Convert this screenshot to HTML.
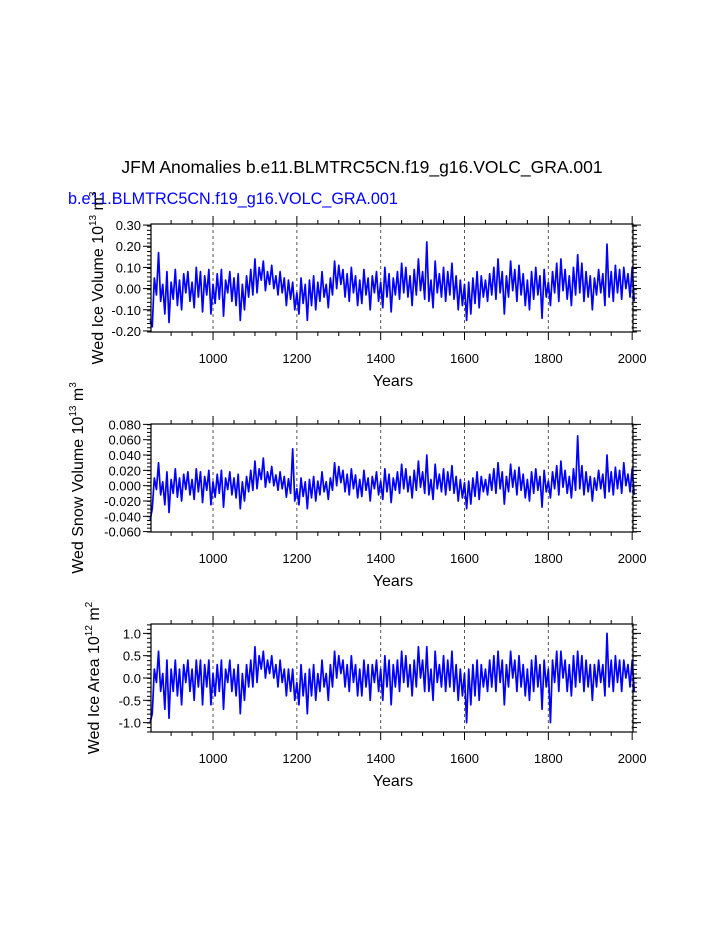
<!DOCTYPE html>
<html><head><meta charset="utf-8"><style>
html,body{margin:0;padding:0;background:#fff;}
svg{display:block;font-family:"Liberation Sans",sans-serif;}
</style></head><body>
<svg id="chart" width="723" height="935" viewBox="0 0 723 935">
<text x="362" y="173" text-anchor="middle" font-size="17.5">JFM Anomalies b.e11.BLMTRC5CN.f19_g16.VOLC_GRA.001</text>
<text x="68" y="204" font-size="16.2" fill="#0000ff">b.e11.BLMTRC5CN.f19_g16.VOLC_GRA.001</text>
</svg>
<script>
const years0 = 850, yearStep = 5;
const xTicks = [1000,1200,1400,1600,1800,2000];
const iceVol = [-15,-18,5,-3,17,-6,2,-12,8,-16,3,-5,9,-8,4,-10,7,-2,8,-6,
3,-9,10,-4,8,-11,6,-3,9,-12,2,-7,7,-5,9,-13,4,-2,8,-6,
5,-8,7,-15,2,-10,6,-4,9,-3,14,-2,10,4,13,-1,8,2,11,0,
6,-3,8,-2,5,-8,4,-5,3,-10,-2,-12,5,-7,2,-15,4,-8,6,-10,
3,-6,8,-4,2,-9,5,-3,13,0,11,2,9,-4,7,-6,10,-2,6,-8,
4,-7,9,-3,5,-10,6,-2,8,-6,3,-9,10,-4,7,-11,5,-3,8,-5,
12,-2,10,-4,6,-8,9,-3,14,-1,8,-5,22,-6,4,-9,13,-2,7,-4,
10,-6,8,-3,12,-5,6,-10,4,-8,2,-15,3,-12,5,-7,8,-9,6,-4,
4,-6,7,-3,10,-5,14,-2,8,-12,6,-4,13,-1,9,-6,11,-3,7,-8,
4,-10,8,-5,10,-3,6,-14,9,-4,3,-8,8,-2,12,-6,14,-1,9,-5,
6,-8,10,-3,16,-2,12,-6,8,-4,6,-10,5,-3,9,-2,7,-8,21,-4,
8,-6,11,-2,9,-5,10,0,7,-4,10,-6];
const snowVol = [-45,-30,10,-5,30,-12,5,-25,18,-35,8,-10,22,-15,10,-20,15,-5,18,-12,
8,-18,22,-8,18,-22,12,-6,20,-25,5,-15,15,-10,20,-28,10,-5,18,-12,
10,-16,15,-30,5,-20,12,-8,20,-6,32,-4,22,8,36,-2,18,4,25,0,
14,-6,18,-4,12,-15,9,-10,48,-20,-4,-25,10,-14,5,-30,8,-16,12,-20,
6,-12,18,-8,5,-18,10,-6,30,0,25,4,20,-8,15,-12,22,-4,14,-16,
8,-14,20,-6,10,-20,12,-4,18,-12,6,-18,22,-8,15,-22,10,-6,18,-10,
28,-4,22,-8,12,-16,20,-6,32,-2,18,-10,40,-12,8,-18,28,-4,15,-8,
22,-12,18,-6,26,-10,12,-20,8,-16,4,-30,6,-24,10,-14,18,-18,12,-8,
8,-12,15,-6,22,-10,30,-4,18,-24,12,-8,28,-2,20,-12,24,-6,15,-16,
8,-20,18,-10,22,-6,12,-28,20,-8,6,-16,18,-4,26,-12,32,-2,20,-10,
12,-16,22,-6,65,-4,26,-12,18,-8,12,-20,10,-6,20,-4,15,-16,40,-8,
18,-12,24,-4,20,-10,30,0,15,-8,22,-12];
const iceArea = [-10,-8,2,-1,6,-3,1,-7,4,-9,2,-3,4,-4,2,-6,3,-1,4,-3,
2,-5,4,-2,4,-6,3,-2,4,-6,1,-4,3,-3,4,-7,2,-1,4,-3,
2,-4,3,-8,1,-5,3,-2,4,-2,7,-1,5,2,6,0,4,1,5,0,
3,-2,4,-1,2,-4,2,-3,2,-5,-1,-6,3,-4,1,-8,2,-4,3,-5,
1,-3,4,-2,1,-5,3,-2,6,0,5,1,4,-2,3,-3,5,-1,3,-4,
2,-4,4,-2,3,-5,3,-1,4,-3,2,-5,5,-2,4,-6,3,-2,4,-3,
6,-1,5,-2,3,-4,4,-2,7,0,4,-3,7,-3,2,-5,6,-1,3,-2,
5,-3,4,-2,6,-3,3,-5,2,-4,1,-10,2,-6,3,-4,4,-5,3,-2,
2,-3,4,-2,5,-3,6,-1,4,-6,3,-2,6,0,4,-3,5,-2,3,-4,
2,-5,4,-3,5,-2,3,-7,4,-2,2,-10,4,-1,6,-3,6,0,4,-3,
3,-4,5,-2,6,-1,5,-3,4,-2,3,-5,3,-2,4,-1,3,-4,10,-2,
4,-3,5,-1,4,-3,4,0,3,-2,4,-3];
const ticks1 = ["0.30","0.20","0.10","0.00","-0.10","-0.20"];
const ticks2 = ["0.080","0.060","0.040","0.020","0.000","-0.020","-0.040","-0.060"];
const ticks3 = ["1.0","0.5","0.0","-0.5","-1.0"];

const NS='http://www.w3.org/2000/svg';
const svg=document.getElementById('chart');
const X0=151,X1=633,XMIN=852,XMAX=2002;
const xs=v=>X0+(v-XMIN)/(XMAX-XMIN)*(X1-X0);
function mk(tag,at,parent){const e=document.createElementNS(NS,tag);for(const k in at)e.setAttribute(k,at[k]);(parent||svg).appendChild(e);return e;}

const panels=[
 {top:224,bot:332,min:-0.205,max:0.305,data:iceVol,scale:0.01,ticks:ticks1,minor:0.02,name:'ice-volume',
  title:'Wed Ice Volume 10',sup:'13',unit:' m',usup:'3',tx:103},
 {top:424,bot:532,min:-0.0605,max:0.0805,data:snowVol,scale:0.001,ticks:ticks2,minor:0.005,name:'snow-volume',
  title:'Wed Snow Volume 10',sup:'13',unit:' m',usup:'3',tx:83},
 {top:624,bot:732,min:-1.21,max:1.21,data:iceArea,scale:0.1,ticks:ticks3,minor:0.1,name:'ice-area',
  title:'Wed Ice Area 10',sup:'12',unit:' m',usup:'2',tx:99}
];
panels.forEach(p=>{
 const g=mk('g',{});
 
 
 const ys=v=>p.bot-(v-p.min)/(p.max-p.min)*(p.bot-p.top);
 xTicks.forEach(t=>{const l=mk('line',{x1:xs(t),x2:xs(t),y1:p.top,y2:p.bot,stroke:'#555','stroke-width':1,'stroke-dasharray':'3,3'},g);
  });
 let d='';p.data.forEach((v,i)=>{d+=(i?'L':'M')+xs(years0+i*yearStep).toFixed(2)+','+ys(v*p.scale).toFixed(2);});
 const path=mk('path',{d:d,fill:'none',stroke:'#0000ff','stroke-width':1.7,'stroke-linejoin':'round'},g);
 
 
 const box=mk('rect',{x:X0,y:p.top,width:X1-X0,height:p.bot-p.top,fill:'none',stroke:'#000','stroke-width':1.2},g);
 
 
 for(let y=850;y<=2000;y+=50){const maj=y%200===0&&y>=1000;const L=maj?8:4;const x=xs(y);if(x<X0)continue;
  mk('line',{x1:x,x2:x,y1:p.bot,y2:p.bot+L,stroke:'#000','stroke-width':1},g);
  mk('line',{x1:x,x2:x,y1:p.top,y2:p.top-L,stroke:'#000','stroke-width':1},g);}
 xTicks.forEach(t=>{const tx=mk('text',{x:xs(t),y:p.bot+31,'text-anchor':'middle','font-size':13},g);tx.textContent=t;
  });
 const yt=mk('text',{x:393,y:p.bot+54,'text-anchor':'middle','font-size':16},g);yt.textContent='Years';
 
 for(let v=p.min;v<=p.max+1e-9;v+=p.minor){const y=ys(v);
  mk('line',{x1:X0,x2:X0-4,y1:y,y2:y,stroke:'#000','stroke-width':1},g);
  mk('line',{x1:X1,x2:X1+4,y1:y,y2:y,stroke:'#000','stroke-width':1},g);}
 p.ticks.forEach(s=>{const y=ys(Number(s));
  mk('line',{x1:X0,x2:X0-8,y1:y,y2:y,stroke:'#000','stroke-width':1},g);
  mk('line',{x1:X1,x2:X1+8,y1:y,y2:y,stroke:'#000','stroke-width':1},g);
  const t=mk('text',{x:X0-10,y:y+5,'text-anchor':'end','font-size':13},g);t.textContent=s;
  });
 const cy=(p.top+p.bot)/2;
 const tt=mk('text',{x:0,y:0,'text-anchor':'middle','font-size':16,transform:`translate(${p.tx},${cy}) rotate(-90)`},g);
 
 const a=document.createElementNS(NS,'tspan');a.textContent=p.title;tt.appendChild(a);
 const b=document.createElementNS(NS,'tspan');b.setAttribute('dy','-7');b.setAttribute('font-size','10');b.textContent=p.sup;tt.appendChild(b);
 const c=document.createElementNS(NS,'tspan');c.setAttribute('dy','7');c.textContent=p.unit;tt.appendChild(c);
 const e=document.createElementNS(NS,'tspan');e.setAttribute('dy','-7');e.setAttribute('font-size','10');e.textContent=p.usup;tt.appendChild(e);
});
</script>
</body></html>
